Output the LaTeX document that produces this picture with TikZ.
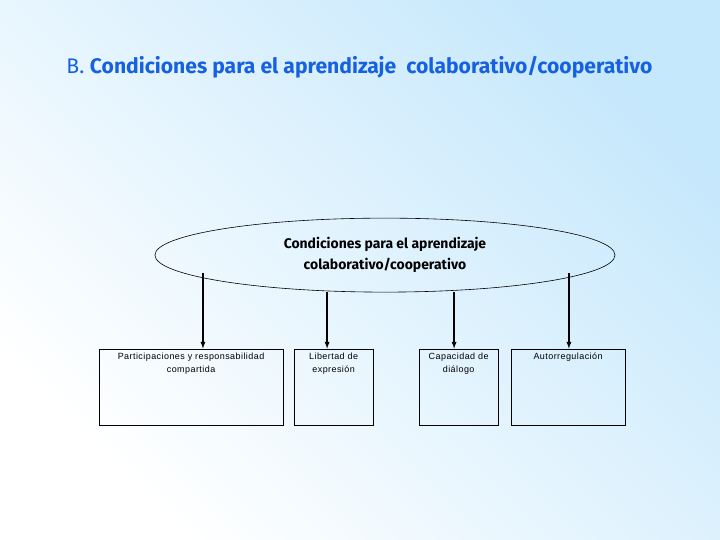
\documentclass[tikz,border=0pt]{standalone}
\usepackage{fontspec}
\setmainfont{Liberation Sans}
\newfontfamily\titlefont{Fira Sans}
\newfontfamily\boxfont[LetterSpace=5]{Liberation Sans}
\usetikzlibrary{arrows,positioning,shapes.geometric}
\definecolor{titleblue}{RGB}{22,96,226}
\definecolor{skyblue}{RGB}{198,232,252}

\begin{document}
\begin{tikzpicture}
\tikzstyle{condbox}=[draw, rectangle, line width=0.8pt, minimum height=2.68cm, inner sep=0pt]
\tikzstyle{boxtext}=[anchor=north, align=center, inner sep=4pt, font=\boxfont\fontsize{9}{13.5}\selectfont]
\tikzstyle{downarrow}=[-latex, line width=1.3pt]
% background
\shade[top color=skyblue, bottom color=white, shading angle=-45] (0,0) rectangle (25.4,19.05);
\useasboundingbox (0,0) rectangle (25.4,19.05);
\path (12.68,16.69) node (title) {\titlefont\fontsize{21.2}{24}\selectfont\color{titleblue}B. \textbf{Condiciones para el aprendizaje\ \ colaborativo/cooperativo}};
\path (13.58,10.05) node (cond)[ellipse, draw, line width=0.6pt, minimum width=16.23cm, minimum height=2.61cm, align=center, font=\titlefont\bfseries\fontsize{14}{21}\selectfont] {Condiciones para el aprendizaje\\colaborativo/cooperativo};
% boxes
\path (6.74,5.40) node (part)[condbox, minimum width=6.49cm, label={[boxtext]north:Participaciones y responsabilidad\\compartida}] {}
(11.77,5.40) node (libertad)[condbox, minimum width=2.79cm, label={[boxtext]north:Libertad de\\expresión}] {}
(16.18,5.40) node (dialogo)[condbox, minimum width=2.79cm, label={[boxtext]north:Capacidad de\\diálogo}] {}
(20.04,5.40) node (autorreg)[condbox, minimum width=4.02cm, label={[boxtext]north:Autorregulación}] {};
% arrows
\coordinate (s1) at (7.16,9.42);
\coordinate (s2) at (11.54,8.75);
\coordinate (s3) at (16.02,8.75);
\coordinate (s4) at (20.07,9.42);
\draw[downarrow] (s1) -- (s1 |- part.north);
\draw[downarrow] (s2) -- (s2 |- libertad.north);
\draw[downarrow] (s3) -- (s3 |- dialogo.north);
\draw[downarrow] (s4) -- (s4 |- autorreg.north);
\end{tikzpicture}
\end{document}
